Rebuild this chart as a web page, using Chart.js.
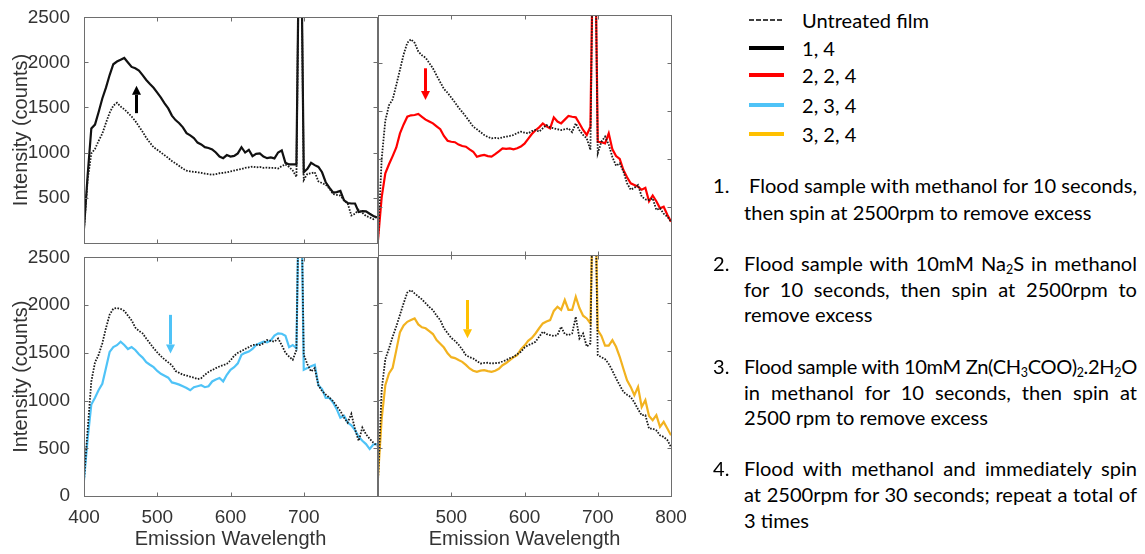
<!DOCTYPE html>
<html><head><meta charset="utf-8">
<script src="https://cdn.jsdelivr.net/npm/chart.js@4.4.0/dist/chart.umd.min.js"></script>
<style>
html,body{margin:0;padding:0;background:#fff;}
body{width:1145px;height:554px;position:relative;overflow:hidden;font-family:Lato,'Open Sans',sans-serif;color:#000;--fs:18px;}
canvas{position:absolute;}
.lg{position:absolute;left:749px;width:300px;height:28px;display:flex;align-items:center;font-size:var(--fs);}
.lg svg{width:36px;height:8px;margin-right:17px;flex:none;}
.num{position:absolute;left:713px;font-size:var(--fs);line-height:26px;}
.ln{position:absolute;left:744px;width:393px;font-size:var(--fs);line-height:26px;white-space:nowrap;}
.ln span{display:inline-block;white-space:nowrap;}
sub{font-size:0.62em;vertical-align:-3px;line-height:0;}
</style>
</head><body>
<canvas id="tl" width="380" height="260" style="left:0;top:0"></canvas>
<canvas id="tr" width="330" height="260" style="left:370px;top:0"></canvas>
<canvas id="bl" width="380" height="314" style="left:0;top:240px"></canvas>
<canvas id="br" width="330" height="314" style="left:370px;top:240px"></canvas>

<div class="lg" style="top:6px"><svg><line x1="0" y1="4" x2="35" y2="4" stroke="#000" stroke-width="1.6" stroke-dasharray="5,2"/></svg>Untreated film</div>
<div class="lg" style="top:34px"><svg><line x1="0" y1="4" x2="35" y2="4" stroke="#000" stroke-width="4"/></svg>1, 4</div>
<div class="lg" style="top:61px"><svg><line x1="0" y1="4" x2="35" y2="4" stroke="#ff0000" stroke-width="4"/></svg>2, 2, 4</div>
<div class="lg" style="top:91px"><svg><line x1="0" y1="4" x2="35" y2="4" stroke="#4fc3f7" stroke-width="4"/></svg>2, 3, 4</div>
<div class="lg" style="top:120px"><svg><line x1="0" y1="4" x2="35" y2="4" stroke="#ffc000" stroke-width="4"/></svg>3, 2, 4</div>

<div class="num" style="top:172px">1.</div>
<div class="ln j" id="probe" data-w="388" style="top:172px;left:749px"><span>Flood sample with methanol for 10 seconds,</span></div>
<div class="ln" style="top:199px"><span>then spin at 2500rpm to remove excess</span></div>

<div class="num" style="top:250px">2.</div>
<div class="ln j" data-w="393" style="top:250px"><span>Flood sample with 10mM Na<sub>2</sub>S in methanol</span></div>
<div class="ln j" data-w="393" style="top:276px"><span>for 10 seconds, then spin at 2500rpm to</span></div>
<div class="ln" style="top:301px"><span>remove excess</span></div>

<div class="num" style="top:353px">3.</div>
<div class="ln j" data-w="393" style="top:353px"><span>Flood sample with 10mM Zn(CH<sub>3</sub>COO)<sub>2</sub>.2H<sub>2</sub>O</span></div>
<div class="ln j" data-w="393" style="top:379px"><span>in methanol for 10 seconds, then spin at</span></div>
<div class="ln" style="top:404px"><span>2500 rpm to remove excess</span></div>

<div class="num" style="top:455px">4.</div>
<div class="ln j" data-w="393" style="top:455px"><span>Flood with methanol and immediately spin</span></div>
<div class="ln j" data-w="393" style="top:481px"><span>at 2500rpm for 30 seconds; repeat a total of</span></div>
<div class="ln" style="top:507px"><span>3 times</span></div>

<script>
// ---- data ----
const wavelengths = [400,405,410,415,420,425,430,435,440,445,450,455,460,465,470,475,480,485,490,495,500,505,510,515,520,525,530,535,540,545,550,555,560,565,570,575,580,585,590,595,600,605,610,615,620,625,630,635,640,645,650,655,660,665,670,675,680,685,690,693,697,700,705,710,715,720,725,730,735,740,745,750,755,760,765,770,775,780,785,790,795,800];

const untreatedA = [156,700,990,1040,1130,1210,1330,1441,1520,1552,
 1510,1480,1440,1400,1350,1290,1230,1163,1110,1059,
 1030,1000,970,940,905,880,851,820,799,790,
 785,781,775,765,760,753,760,770,775,781,
 790,800,810,816,830,835,844,835,840,830,
 833,828,830,823,850,868,840,800,729,3000,
 3000,694,764,770,781,680,660,642,600,538,
 530,521,470,434,300,320,365,330,295,280,260,295];
const treated14 = [156,750,1267,1310,1450,1600,1720,1860,1980,2010,
 2030,2050,2000,1950,1935,1910,1860,1805,1760,1719,
 1665,1610,1545,1490,1410,1360,1325,1280,1215,1190,
 1160,1110,1090,1060,1050,1035,1000,955,937,972,
 955,962,990,1059,1000,1030,960,985,990,955,
 937,945,935,1000,1024,885,868,870,868,3000,
 3000,781,820,885,860,840,781,670,610,556,
 560,573,469,440,434,434,340,350,347,320,295,278];

const untreatedB = [156,1000,1400,1560,1620,1771,1930,2090,2210,2247,
 2210,2120,2080,2055,2000,1944,1870,1800,1730,1690,
 1640,1590,1535,1490,1441,1390,1337,1310,1280,1250,
 1230,1215,1220,1215,1225,1233,1240,1250,1270,1285,
 1275,1267,1290,1302,1285,1320,1354,1330,1319,1310,
 1302,1310,1319,1280,1371,1300,1250,1215,1094,3000,
 3000,1059,1180,1233,1150,1020,930,955,870,747,
 680,700,729,608,580,573,590,470,486,430,399,347];
const treated224 = [156,600,851,945,1030,1120,1267,1360,1441,1455,
 1458,1469,1440,1410,1390,1371,1340,1310,1240,1190,
 1180,1175,1150,1135,1128,1100,1076,1024,1035,1042,
 1030,1024,1050,1080,1111,1105,1111,1100,1111,1130,
 1160,1210,1260,1300,1330,1371,1340,1319,1434,1390,
 1371,1410,1448,1440,1434,1370,1302,1250,1337,3000,
 3000,1180,1175,1163,1267,1100,1030,1000,885,810,
 747,730,712,680,700,560,620,560,486,503,420,347];

const untreatedC = [163,700,1200,1400,1480,1600,1760,1900,1963,1970,
 1960,1940,1890,1840,1765,1730,1704,1650,1600,1550,
 1505,1465,1430,1400,1370,1310,1290,1271,1262,1250,
 1240,1225,1235,1270,1300,1320,1340,1357,1370,1385,
 1420,1470,1500,1520,1540,1560,1582,1585,1582,1600,
 1634,1625,1617,1650,1580,1500,1461,1427,1530,3000,
 3000,1479,1380,1305,1340,1160,1100,1063,1030,994,
 940,890,820,769,860,700,578,717,647,600,560,526];
const treated234 = [163,600,959,1030,1110,1175,1340,1510,1560,1580,
 1617,1582,1540,1560,1530,1485,1450,1402,1375,1350,
 1310,1280,1260,1240,1190,1180,1167,1150,1132,1108,
 1140,1150,1160,1140,1150,1200,1220,1236,1201,1270,
 1323,1350,1390,1480,1500,1513,1540,1582,1600,1617,
 1610,1630,1680,1704,1700,1680,1560,1582,1548,3000,
 3000,1323,1340,1360,1375,1160,1120,1028,1028,980,
 910,821,840,769,740,690,620,578,544,492,540,544];

const untreatedD = [150,1100,1420,1530,1652,1760,1880,2000,2110,2136,
 2102,2070,2040,2000,1960,1929,1870,1825,1740,1690,
 1640,1610,1570,1520,1461,1440,1427,1400,1375,1380,
 1382,1375,1378,1382,1395,1409,1430,1444,1470,1496,
 1540,1565,1580,1600,1652,1704,1680,1669,1660,1669,
 1755,1680,1669,1686,1859,1634,1686,1550,1582,3000,
 3000,1461,1440,1420,1370,1300,1219,1150,1080,1050,
 1028,970,900,838,838,700,699,680,630,613,580,509];
const treated324 = [197,800,1150,1271,1330,1513,1700,1770,1807,1825,
 1842,1780,1750,1740,1710,1680,1617,1580,1540,1480,
 1440,1430,1410,1392,1360,1323,1300,1288,1300,1305,
 1295,1288,1300,1320,1357,1380,1409,1440,1461,1520,
 1560,1610,1640,1686,1740,1790,1810,1825,1920,1963,
 1930,2033,1930,1930,2067,1950,1870,1842,1790,3000,
 3000,1721,1660,1560,1560,1617,1548,1444,1320,1200,
 1132,1046,1132,924,994,830,786,838,717,769,700,630];

const xTickValues = [400,500,600,700,800];
const yTickValues = [0,500,1000,1500,2000,2500];
// arrows: wavelength, tail intensity, tip intensity
const arrowX = [471,464,517,521];
const arrowFrom = [1437,1945,1898,2033];
const arrowTo = [1740,1615,1494,1636];

// ---- text fitting (font metrics differ from the original's) ----
function fitText() {
  const body = document.body;
  body.style.setProperty('--fs', '18px');
  const probe = document.querySelector('#probe span');
  const w0 = probe.getBoundingClientRect().width;
  const fs = Math.min(21, Math.max(16, 18 * 388 / w0));
  body.style.setProperty('--fs', fs.toFixed(2) + 'px');
  document.querySelectorAll('.ln.j').forEach(el => {
    const sp = el.querySelector('span');
    sp.style.wordSpacing = '0px'; sp.style.letterSpacing = '0px';
    const target = +el.dataset.w;
    const w = sp.getBoundingClientRect().width;
    const n = (sp.textContent.match(/ /g) || []).length;
    const extra = target - w;
    if (extra >= 0) sp.style.wordSpacing = (extra / n).toFixed(2) + 'px';
    else sp.style.letterSpacing = (extra / sp.textContent.length).toFixed(3) + 'px';
  });
}
fitText();
if (document.fonts && document.fonts.ready) document.fonts.ready.then(fitText);

// ---- chart setup ----
Chart.defaults.font.family = "'Liberation Sans', Arial, sans-serif";
Chart.defaults.color = '#333';

const toXY = vals => wavelengths.map((x,i)=>({x, y: vals[i]}));

const framePlugin = {
  id: 'frame',
  afterDatasetsDraw(chart, args, o) {
    const {ctx, chartArea: a, scales: {x, y}} = chart;
    ctx.save();
    if (o.arrow) {
      const ax = Math.round(x.getPixelForValue(o.arrow.x)) + 0.5;
      const y1 = y.getPixelForValue(o.arrow.from);
      const y2 = y.getPixelForValue(o.arrow.to);
      const dir = y2 < y1 ? -1 : 1;
      const head = 9, hw = 4.5;
      ctx.strokeStyle = o.arrow.color; ctx.fillStyle = o.arrow.color;
      ctx.lineWidth = 3;
      ctx.beginPath(); ctx.moveTo(ax, y1); ctx.lineTo(ax, y2 - dir*head); ctx.stroke();
      ctx.beginPath(); ctx.moveTo(ax - hw, y2 - dir*head); ctx.lineTo(ax + hw, y2 - dir*head); ctx.lineTo(ax, y2); ctx.closePath(); ctx.fill();
    }
    ctx.strokeStyle = '#6e6e6e';
    ctx.lineWidth = 1;
    const L = Math.round(a.left)+0.5, R = Math.round(a.right)+0.5, T = Math.round(a.top)+0.5, B = Math.round(a.bottom)+0.5;
    ctx.strokeRect(L, T, R-L, B-T);
    ctx.beginPath();
    xTickValues.forEach(v => {
      const px = Math.round(x.getPixelForValue(v))+0.5;
      ctx.moveTo(px, B); ctx.lineTo(px, B-4);
      ctx.moveTo(px, T); ctx.lineTo(px, T+4);
    });
    yTickValues.forEach(v => {
      const py = Math.round(y.getPixelForValue(v))+0.5;
      ctx.moveTo(L, py); ctx.lineTo(L+4, py);
      ctx.moveTo(R, py); ctx.lineTo(R-4, py);
    });
    ctx.stroke();
    ctx.restore();
  }
};

function makePanel(id, untreated, treated, color, opts) {
  const datasets = [
    {data: toXY(untreated), borderColor: '#1a1a1a', borderWidth: 1.8, borderDash: [1.6,1.4], pointRadius: 0, tension: 0, clip: 0},
    {data: toXY(treated), borderColor: color, borderWidth: 2.2, pointRadius: 0, tension: 0, clip: 0}
  ];
  const xScale = {
    type: 'linear', min: 400, max: 800,
    display: opts.showX,
    grid: {display: false}, border: {display: false},
    afterBuildTicks: s => { s.ticks = xTickValues.map(v => ({value: v})); },
    ticks: {padding: 2, font: {size: 19}, color: '#333', maxRotation: 0, autoSkip: false,
            callback: v => (opts.hideX.includes(v) ? '' : String(v))},
    title: {display: true, text: 'Emission Wavelength', font: {size: 20}, color: '#333', padding: {top: 0, bottom: 3}}
  };
  if (opts.showX) xScale.afterFit = s => { s.height = 58; };
  const yScale = {
    type: 'linear', min: 0, max: 2500,
    display: opts.showY,
    grid: {display: false}, border: {display: false},
    afterBuildTicks: s => { s.ticks = yTickValues.map(v => ({value: v})); },
    ticks: {padding: 6, font: {size: 19}, color: '#333', autoSkip: false,
            callback: v => (opts.hideY.includes(v) ? '' : String(v))},
    title: {display: true, text: 'Intensity (counts)', font: {size: 20}, color: '#333', padding: {top: 9, bottom: 0}}
  };
  if (opts.showY) yScale.afterFit = s => { s.width = 84; };
  new Chart(document.getElementById(id), {
    type: 'line',
    data: {datasets},
    plugins: [framePlugin],
    options: {
      responsive: false, animation: false, devicePixelRatio: 1,
      events: [],
      layout: {padding: opts.padding},
      plugins: {legend: {display: false}, tooltip: {enabled: false}, frame: {arrow: opts.arrow}},
      scales: {x: xScale, y: yScale}
    }
  });
}

makePanel('tl', untreatedA, treated14, '#111111', {
  padding: {top: 15, right: 3, bottom: 5, left: 0}, showX: false, showY: true, hideX: [], hideY: [0],
  arrow: {x: arrowX[0], from: arrowFrom[0], to: arrowTo[0], color: '#000'}
});
makePanel('tr', untreatedB, treated224, '#ff0000', {
  padding: {top: 15, right: 29, bottom: 5, left: 8}, showX: false, showY: false, hideX: [], hideY: [],
  arrow: {x: arrowX[1], from: arrowFrom[1], to: arrowTo[1], color: '#ff0000'}
});
makePanel('bl', untreatedC, treated234, '#4fc3f7', {
  padding: {top: 15, right: 3, bottom: 0, left: 0}, showX: true, showY: true, hideX: [800], hideY: [],
  arrow: {x: arrowX[2], from: arrowFrom[2], to: arrowTo[2], color: '#4fc3f7'}
});
makePanel('br', untreatedD, treated324, '#f2b21f', {
  padding: {top: 15, right: 29, bottom: 0, left: 8}, showX: true, showY: false, hideX: [400], hideY: [],
  arrow: {x: arrowX[3], from: arrowFrom[3], to: arrowTo[3], color: '#ffc000'}
});
</script>
</body></html>
